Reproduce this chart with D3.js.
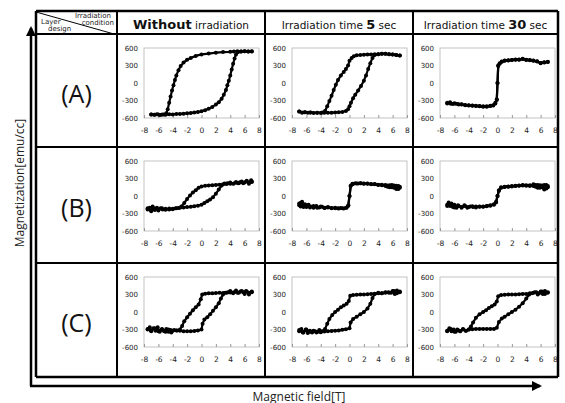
<!DOCTYPE html>
<html>
<head>
<meta charset="utf-8">
<script src="https://cdn.jsdelivr.net/npm/d3@7"></script>
<style>
  html, body { margin: 0; padding: 0; background: #fff; }
  svg { display: block; }
</style>
</head>
<body>
<div id="chart"></div>
<script>
// Axis ticks of every small panel
var xTicks = [-8, -6, -4, -2, 0, 2, 4, 6, 8];
var yTicks = [-600, -300, 0, 300, 600];

// Column / row headings
var rowLabels = ["(A)", "(B)", "(C)"];
var colHeads = [
    { pre: "", bold: "Without", post: " irradiation" },
    { pre: "Irradiation time ", bold: "5", post: " sec" },
    { pre: "Irradiation time ", bold: "30", post: " sec" }
];

// Hysteresis loops: [field T, magnetization emu/cc]
// "up" = field swept from -7 to +7, "down" = swept back
var A0_up = [[-7.0,-540],[-6.6,-545],[-6.2,-535],[-5.8,-550],[-5.4,-540],[-5.0,-545],[-4.5,-535],[-4.0,-540],[-3.5,-530],[-3.0,-530],[-2.5,-525],[-2.0,-520],[-1.5,-515],[-1.0,-505],[-0.5,-495],[0.0,-485],[0.5,-465],[1.0,-440],[1.5,-410],[2.0,-370],[2.4,-330],[2.8,-270],[3.1,-200],[3.4,-120],[3.6,-40],[3.8,40],[4.0,130],[4.2,230],[4.4,330],[4.6,420],[4.8,490],[5.1,530],[5.5,540],[6.0,545],[6.5,540],[7.0,540]];
var A0_down = [[7.0,545],[6.5,540],[6.0,545],[5.5,540],[5.0,545],[4.5,540],[4.0,535],[3.0,530],[2.0,520],[1.0,505],[0.0,490],[-0.8,465],[-1.5,430],[-2.0,400],[-2.5,350],[-2.9,290],[-3.2,220],[-3.5,130],[-3.7,50],[-3.9,-40],[-4.1,-130],[-4.3,-230],[-4.5,-340],[-4.7,-450],[-4.9,-520],[-5.2,-540],[-5.6,-545],[-6.0,-540],[-6.5,-545],[-7.0,-540]];

var A5_up = [[-7.0,-490],[-6.6,-510],[-6.2,-500],[-5.8,-510],[-5.4,-505],[-5.0,-515],[-4.5,-510],[-4.0,-515],[-3.5,-510],[-3.0,-510],[-2.5,-510],[-2.0,-505],[-1.5,-500],[-1.0,-495],[-0.5,-480],[-0.2,-450],[0.0,-400],[0.2,-340],[0.5,-260],[0.8,-200],[1.2,-130],[1.6,-50],[2.0,40],[2.3,130],[2.6,240],[2.9,340],[3.2,430],[3.5,480],[4.0,495],[4.5,500],[5.0,500],[5.5,495],[6.0,490],[6.5,480],[7.0,470]];
var A5_down = [[7.0,470],[6.5,480],[6.0,490],[5.5,495],[5.0,500],[4.5,500],[4.0,495],[3.5,495],[3.0,490],[2.5,490],[2.0,485],[1.5,480],[1.0,475],[0.6,460],[0.3,430],[0.0,380],[-0.2,300],[-0.5,240],[-0.8,190],[-1.2,130],[-1.6,50],[-1.9,-30],[-2.2,-120],[-2.5,-220],[-2.8,-310],[-3.1,-400],[-3.4,-480],[-3.8,-505],[-4.5,-510],[-5.5,-505],[-6.2,-500],[-7.0,-490]];

var A30_up = [[-7.0,-350],[-6.6,-330],[-6.2,-360],[-5.8,-355],[-5.4,-370],[-5.0,-370],[-4.5,-380],[-4.0,-385],[-3.5,-390],[-3.0,-395],[-2.5,-400],[-2.0,-405],[-1.5,-400],[-1.0,-395],[-0.6,-380],[-0.3,-340],[-0.1,-280],[0.0,0],[0.1,290],[0.3,340],[0.6,370],[1.0,385],[1.5,390],[2.0,395],[2.5,400],[3.0,405],[3.5,410],[4.0,395],[4.5,390],[5.0,385],[5.5,370],[6.0,345],[6.5,355],[7.0,360]];
var A30_down = [[7.0,365],[6.5,350],[6.0,340],[5.5,375],[5.0,380],[4.5,395],[4.0,400],[3.5,415],[3.0,400],[2.5,405],[2.0,395],[1.5,385],[1.0,380],[0.6,365],[0.3,330],[0.1,300],[0.0,0],[-0.1,-290],[-0.3,-350],[-0.6,-385],[-1.0,-390],[-1.5,-405],[-2.0,-400],[-2.5,-395],[-3.0,-390],[-3.5,-385],[-4.0,-380],[-4.5,-375],[-5.0,-365],[-5.5,-360],[-6.0,-345],[-6.5,-355],[-7.0,-340]];

var B0_up = [[-7.5,-230],[-7.2,-200],[-7.0,-260],[-6.8,-180],[-6.5,-240],[-6.2,-200],[-6.0,-250],[-5.7,-210],[-5.4,-230],[-5.0,-220],[-4.5,-230],[-4.0,-220],[-3.5,-210],[-3.0,-200],[-2.5,-195],[-2.0,-190],[-1.5,-185],[-1.0,-175],[-0.5,-165],[0.0,-150],[0.4,-120],[0.8,-90],[1.2,-60],[1.6,-20],[2.0,40],[2.4,110],[2.8,180],[3.2,215],[3.6,220],[4.0,230],[4.4,210],[4.8,240],[5.2,220],[5.6,250],[6.0,230],[6.3,260],[6.6,210],[6.9,270],[7.0,240]];
var B0_down = [[7.0,250],[6.6,230],[6.2,250],[5.8,220],[5.4,240],[5.0,225],[4.5,215],[4.0,210],[3.5,205],[3.0,200],[2.5,195],[2.0,190],[1.5,185],[1.0,180],[0.5,175],[0.0,165],[-0.4,140],[-0.8,100],[-1.2,60],[-1.6,10],[-2.0,-50],[-2.4,-120],[-2.8,-180],[-3.2,-205],[-3.6,-210],[-4.0,-225],[-4.5,-215],[-5.0,-235],[-5.5,-210],[-6.0,-240],[-6.5,-215],[-7.0,-250],[-7.5,-210]];

var B5_up = [[-7.0,-130],[-6.8,-180],[-6.6,-100],[-6.4,-170],[-6.2,-140],[-6.0,-190],[-5.7,-150],[-5.4,-180],[-5.0,-200],[-4.6,-170],[-4.2,-195],[-3.8,-185],[-3.4,-200],[-3.0,-195],[-2.5,-205],[-2.0,-210],[-1.5,-215],[-1.0,-210],[-0.5,-200],[-0.2,-170],[0.0,0],[0.15,170],[0.4,210],[0.8,220],[1.2,215],[1.6,220],[2.0,215],[2.5,210],[3.0,205],[3.5,200],[4.0,195],[4.5,185],[5.0,190],[5.3,160],[5.6,185],[5.9,150],[6.2,180],[6.5,120],[6.8,170],[7.0,140]];
var B5_down = [[7.0,160],[6.8,120],[6.5,175],[6.2,140],[5.9,190],[5.6,150],[5.3,180],[5.0,170],[4.5,195],[4.0,190],[3.5,205],[3.0,200],[2.5,215],[2.0,210],[1.5,220],[1.0,215],[0.5,205],[0.2,180],[0.0,0],[-0.15,-160],[-0.4,-200],[-0.8,-215],[-1.2,-205],[-1.6,-210],[-2.0,-200],[-2.5,-210],[-3.0,-190],[-3.5,-205],[-4.0,-180],[-4.5,-200],[-5.0,-170],[-5.5,-195],[-6.0,-160],[-6.4,-190],[-6.8,-120],[-7.0,-160]];

var B30_up = [[-7.0,-150],[-6.8,-110],[-6.6,-170],[-6.4,-130],[-6.2,-190],[-6.0,-150],[-5.7,-200],[-5.4,-170],[-5.0,-190],[-4.6,-160],[-4.2,-200],[-3.8,-180],[-3.4,-190],[-3.0,-180],[-2.5,-185],[-2.0,-180],[-1.5,-170],[-1.0,-160],[-0.5,-140],[-0.2,-100],[0.0,0],[0.2,100],[0.5,150],[1.0,160],[1.5,165],[2.0,170],[2.5,175],[3.0,180],[3.5,190],[4.0,185],[4.5,170],[5.0,200],[5.3,160],[5.6,190],[5.9,140],[6.2,180],[6.5,110],[6.8,190],[7.0,150]];
var B30_down = [[7.0,170],[6.8,130],[6.5,190],[6.2,150],[5.9,185],[5.6,140],[5.3,190],[5.0,170],[4.5,185],[4.0,175],[3.5,180],[3.0,175],[2.5,170],[2.0,165],[1.5,160],[1.0,155],[0.5,140],[0.2,90],[0.0,0],[-0.2,-110],[-0.5,-150],[-1.0,-165],[-1.5,-175],[-2.0,-185],[-2.5,-180],[-3.0,-195],[-3.5,-175],[-4.0,-190],[-4.5,-170],[-5.0,-200],[-5.5,-160],[-6.0,-195],[-6.5,-140],[-7.0,-170]];

var C0_up = [[-7.5,-300],[-7.2,-260],[-7.0,-330],[-6.7,-280],[-6.4,-320],[-6.1,-260],[-5.8,-340],[-5.5,-300],[-5.2,-330],[-4.9,-290],[-4.6,-340],[-4.3,-310],[-4.0,-320],[-3.5,-315],[-3.0,-320],[-2.5,-330],[-2.0,-330],[-1.5,-330],[-1.0,-325],[-0.5,-315],[0.0,-300],[0.15,-200],[0.4,-130],[0.8,-90],[1.2,-40],[1.6,20],[2.0,80],[2.4,150],[2.7,230],[3.0,300],[3.3,330],[3.7,340],[4.0,360],[4.4,320],[4.8,370],[5.2,330],[5.6,360],[6.0,310],[6.3,350],[6.6,300],[7.0,340]];
var C0_down = [[7.0,350],[6.6,330],[6.2,360],[5.8,340],[5.4,350],[5.0,330],[4.5,340],[4.0,335],[3.5,330],[3.0,325],[2.5,330],[2.0,325],[1.5,320],[1.0,320],[0.5,315],[0.1,300],[-0.1,220],[-0.4,130],[-0.8,80],[-1.2,30],[-1.6,-30],[-2.0,-90],[-2.4,-160],[-2.7,-240],[-3.0,-300],[-3.4,-315],[-3.8,-310],[-4.2,-350],[-4.6,-300],[-5.0,-340],[-5.5,-290],[-6.0,-330],[-6.5,-280],[-7.0,-320],[-7.5,-290]];

var C5_up = [[-7.0,-330],[-6.7,-290],[-6.4,-350],[-6.1,-300],[-5.8,-360],[-5.5,-320],[-5.2,-350],[-4.8,-330],[-4.4,-340],[-4.0,-345],[-3.5,-335],[-3.0,-330],[-2.5,-325],[-2.0,-320],[-1.5,-315],[-1.0,-305],[-0.5,-295],[0.0,-280],[0.15,-180],[0.5,-120],[1.0,-80],[1.5,-40],[2.0,0],[2.5,60],[2.9,140],[3.2,240],[3.5,310],[4.0,330],[4.5,320],[5.0,340],[5.5,330],[6.0,360],[6.3,310],[6.6,370],[7.0,340]];
var C5_down = [[7.0,350],[6.6,320],[6.2,360],[5.8,330],[5.4,340],[5.0,330],[4.5,320],[4.0,320],[3.5,315],[3.0,310],[2.5,305],[2.0,300],[1.5,300],[1.0,295],[0.5,290],[0.1,280],[-0.1,190],[-0.4,140],[-0.8,110],[-1.2,80],[-1.6,40],[-2.0,0],[-2.4,-50],[-2.8,-120],[-3.1,-200],[-3.4,-290],[-3.8,-330],[-4.2,-310],[-4.6,-350],[-5.0,-320],[-5.5,-340],[-6.0,-300],[-6.5,-350],[-7.0,-310]];

var C30_up = [[-7.0,-320],[-6.7,-280],[-6.4,-330],[-6.1,-300],[-5.8,-340],[-5.5,-310],[-5.2,-330],[-4.8,-300],[-4.4,-320],[-4.0,-300],[-3.5,-295],[-3.0,-290],[-2.5,-290],[-2.0,-290],[-1.5,-290],[-1.0,-290],[-0.5,-290],[-0.1,-270],[0.2,-170],[0.6,-110],[1.0,-80],[1.5,-40],[2.0,0],[2.5,40],[3.0,90],[3.5,150],[4.0,230],[4.4,300],[4.8,320],[5.2,340],[5.6,300],[6.0,350],[6.3,310],[6.6,360],[7.0,330]];
var C30_down = [[7.0,340],[6.6,310],[6.2,350],[5.8,320],[5.4,340],[5.0,330],[4.5,320],[4.0,310],[3.5,310],[3.0,305],[2.5,300],[2.0,300],[1.5,300],[1.0,295],[0.5,290],[0.1,270],[-0.1,180],[-0.4,130],[-0.8,100],[-1.2,70],[-1.6,30],[-2.0,0],[-2.5,-40],[-3.0,-100],[-3.4,-180],[-3.7,-250],[-4.0,-300],[-4.4,-320],[-4.8,-290],[-5.2,-330],[-5.6,-300],[-6.0,-340],[-6.5,-290],[-7.0,-330]];

var panels = [
    [[A0_up, A0_down], [A5_up, A5_down], [A30_up, A30_down]],
    [[B0_up, B0_down], [B5_up, B5_down], [B30_up, B30_down]],
    [[C0_up, C0_down], [C5_up, C5_down], [C30_up, C30_down]]
];

var width = 565, height = 403;

// table grid lines
var colX = [36, 117, 265, 413, 558];
var rowY = [11, 34, 147, 263, 377];

var svg = d3.select("#chart").append("svg")
    .attr("width", width)
    .attr("height", height);

var tickFont = "'DejaVu Sans', Verdana, sans-serif";
var labelFont = "'Open Sans', 'Noto Sans', sans-serif";

// arrow head marker
svg.append("defs").append("marker")
    .attr("id", "arrow")
    .attr("viewBox", "0 0 10 10")
    .attr("refX", 8).attr("refY", 5)
    .attr("markerWidth", 5).attr("markerHeight", 4)
    .attr("markerUnits", "strokeWidth")
    .attr("orient", "auto")
    .append("path")
    .attr("d", "M0,0 L10,5 L0,10 z")
    .attr("fill", "#000");

// axis arrows along the left and the bottom
svg.append("path")
    .attr("d", "M31,386 L31,28")
    .attr("stroke", "#000").attr("stroke-width", 2.5).attr("fill", "none")
    .attr("marker-end", "url(#arrow)");
svg.append("path")
    .attr("d", "M30,386 L540,386")
    .attr("stroke", "#000").attr("stroke-width", 2.5).attr("fill", "none")
    .attr("marker-end", "url(#arrow)");

svg.append("text")
    .attr("transform", "translate(19,183) rotate(-90)")
    .attr("text-anchor", "middle")
    .attr("dominant-baseline", "central")
    .style("font-family", labelFont)
    .style("font-size", "12px")
    .attr("fill", "#222")
    .text("Magnetization[emu/cc]");

svg.append("text")
    .attr("x", 299).attr("y", 396)
    .attr("text-anchor", "middle")
    .attr("dominant-baseline", "central")
    .style("font-family", labelFont)
    .style("font-size", "12px")
    .attr("fill", "#222")
    .text("Magnetic field[T]");

// table frame
var grid = svg.append("g").attr("stroke", "#000").attr("fill", "none");
colX.forEach(function (x, i) {
    grid.append("line")
        .attr("x1", x).attr("x2", x)
        .attr("y1", rowY[0]).attr("y2", rowY[rowY.length - 1])
        .attr("stroke-width", (i === 0 || i === colX.length - 1) ? 2.5 : 2);
});
rowY.forEach(function (y, i) {
    grid.append("line")
        .attr("x1", colX[0]).attr("x2", colX[colX.length - 1])
        .attr("y1", y).attr("y2", y)
        .attr("stroke-width", (i === 0 || i === rowY.length - 1) ? 2.5 : 2);
});
// diagonal in the corner cell
grid.append("line")
    .attr("x1", colX[0]).attr("y1", rowY[0] + 1)
    .attr("x2", colX[1] - 3).attr("y2", rowY[1])
    .attr("stroke-width", 1);

var corner = [
    { t: "Irradiation", x: 93, y: 16, a: "middle" },
    { t: "condition", x: 114, y: 23, a: "end" },
    { t: "Layer", x: 41, y: 22, a: "start" },
    { t: "design", x: 48, y: 29, a: "start" }
];
svg.selectAll(".corner").data(corner).enter().append("text")
    .attr("x", function (d) { return d.x; })
    .attr("y", function (d) { return d.y; })
    .attr("text-anchor", function (d) { return d.a; })
    .attr("dominant-baseline", "central")
    .style("font-family", tickFont)
    .style("font-size", "7px")
    .attr("fill", "#222")
    .text(function (d) { return d.t; });

// column headings
colHeads.forEach(function (h, i) {
    var t = svg.append("text")
        .attr("x", (colX[i + 1] + colX[i + 2]) / 2)
        .attr("y", 29)
        .attr("text-anchor", "middle")
        .style("font-family", tickFont)
        .attr("fill", "#111");
    if (h.pre) t.append("tspan").style("font-size", "10.5px").text(h.pre);
    t.append("tspan").style("font-size", "13px").style("font-weight", "bold").text(h.bold);
    t.append("tspan").style("font-size", "10.5px").text(h.post);
});

// row labels
rowLabels.forEach(function (r, i) {
    svg.append("text")
        .attr("x", (colX[0] + colX[1]) / 2)
        .attr("y", (rowY[i + 1] + rowY[i + 2]) / 2 + 2)
        .attr("text-anchor", "middle")
        .attr("dominant-baseline", "central")
        .style("font-family", labelFont)
        .style("font-size", "25px")
        .attr("fill", "#111")
        .text(r);
});

// small loop panels
var boxW = 115, boxH = 70;
panels.forEach(function (row, ri) {
    row.forEach(function (loops, ci) {
        var bx = colX[ci + 1] + 27;
        var by = rowY[ri + 1] + 14;

        var x = d3.scaleLinear().domain([-8, 8]).range([bx, bx + boxW]);
        var y = d3.scaleLinear().domain([-600, 600]).range([by + boxH, by]);

        var g = svg.append("g");

        g.append("rect")
            .attr("x", bx).attr("y", by)
            .attr("width", boxW).attr("height", boxH)
            .attr("fill", "none")
            .attr("stroke", "#b5b5b5")
            .attr("stroke-width", 0.8);

        var xAxis = g.append("g")
            .attr("transform", "translate(0," + (by + boxH) + ")")
            .call(d3.axisBottom(x).tickValues(xTicks)
                .tickSizeInner(-3).tickSizeOuter(0).tickPadding(10)
                .tickFormat(function (d) { return String(d); }));
        xAxis.select(".domain").remove();
        xAxis.selectAll("line").attr("stroke", "#999");
        xAxis.selectAll("text")
            .style("font-family", tickFont).style("font-size", "7.5px").attr("fill", "#222");

        var yAxis = g.append("g")
            .attr("transform", "translate(" + bx + ",0)")
            .call(d3.axisLeft(y).tickValues(yTicks)
                .tickSize(0).tickPadding(6)
                .tickFormat(function (d) { return String(d); }));
        yAxis.select(".domain").remove();
        yAxis.selectAll("text")
            .style("font-family", tickFont).style("font-size", "7px").attr("fill", "#222");

        var line = d3.line()
            .x(function (d) { return x(d[0]); })
            .y(function (d) { return y(d[1]); });

        loops.forEach(function (branch) {
            g.append("path")
                .datum(branch)
                .attr("d", line)
                .attr("fill", "none")
                .attr("stroke", "#000")
                .attr("stroke-width", 2.2)
                .attr("stroke-linejoin", "round");
            g.selectAll(null)
                .data(branch)
                .enter()
                .append("circle")
                .attr("cx", function (d) { return x(d[0]); })
                .attr("cy", function (d) { return y(d[1]); })
                .attr("r", 2)
                .attr("fill", "#000");
        });
    });
});
</script>
</body>
</html>
